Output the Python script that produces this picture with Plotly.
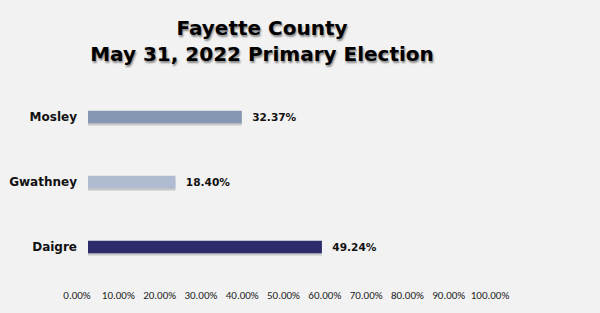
import plotly.graph_objects as go

candidates = ["Daigre", "Gwathney", "Mosley"]
percents = [49.24, 18.40, 32.37]
bar_colors = ["#2c2b6c", "#aebbd0", "#8597b2"]
tick_vals = [0, 10, 20, 30, 40, 50, 60, 70, 80, 90, 100]
tick_text = ["0.00%", "10.00%", "20.00%", "30.00%", "40.00%", "50.00%",
             "60.00%", "70.00%", "80.00%", "90.00%", "100.00%"]
title_text = "Fayette County<br>May 31, 2022 Primary Election"

W, H = 600, 313
bw = 0.19

fig = go.Figure()
# shadow
fig.add_trace(go.Bar(
    x=percents, y=candidates, orientation="h",
    width=bw, offset=-bw / 2 - 0.035,
    marker=dict(color="rgba(0,0,0,0.18)", line=dict(width=0)),
    hoverinfo="skip", showlegend=False,
))
fig.add_trace(go.Bar(
    x=percents, y=candidates, orientation="h",
    width=bw, offset=-bw / 2,
    marker=dict(color=bar_colors, line=dict(width=0)),
    text=["  %.2f%%" % p for p in percents], textposition="outside",
    cliponaxis=False,
    textfont=dict(family="DejaVu Sans", size=12, color="#111111", weight="bold"),
    showlegend=False,
))
# invisible trace for tick axis
fig.add_trace(go.Scatter(x=[0, 100], y=[0, 0], xaxis="x2", yaxis="y2",
                         mode="markers", marker=dict(opacity=0), hoverinfo="skip",
                         showlegend=False))

fig.update_layout(
    width=W, height=H,
    margin=dict(l=0, r=0, t=0, b=0),
    paper_bgcolor="#f2f2f2", plot_bgcolor="#f2f2f2",
    barmode="overlay",
    title=dict(text=title_text, x=262 / W, xanchor="center", y=1 - 35 / H, yanchor="top",
               automargin=False,
               font=dict(family="DejaVu Sans", size=20, color="#000000", weight="bold",
                         shadow="1px 2px 2px rgba(0,0,0,0.45)")),
    xaxis=dict(domain=[88 / W, 563 / W], range=[0, 100], showticklabels=False,
               showgrid=False, zeroline=False, showline=False, fixedrange=True,
               automargin=False),
    yaxis=dict(domain=[(H - 279.5) / H, (H - 84.5) / H], range=[-0.5, 2.5],
               categoryorder="array", categoryarray=candidates, automargin=False,
               showgrid=False, zeroline=False, showline=False, ticks="",
               ticklabelstandoff=10,
               tickfont=dict(family="DejaVu Sans", size=12, color="#111111", weight="bold")),
    xaxis2=dict(domain=[77 / W, 490 / W], range=[0, 100], anchor="y2", automargin=False,
                tickvals=tick_vals, ticktext=tick_text, showgrid=False, zeroline=False,
                showline=False, ticks="",
                tickfont=dict(family="Carlito, Liberation Sans, Arial", size=11, color="#222222")),
    yaxis2=dict(domain=[(H - 287) / H, (H - 286) / H], visible=False, range=[0, 1]),
)

fig.write_html("out.html")
